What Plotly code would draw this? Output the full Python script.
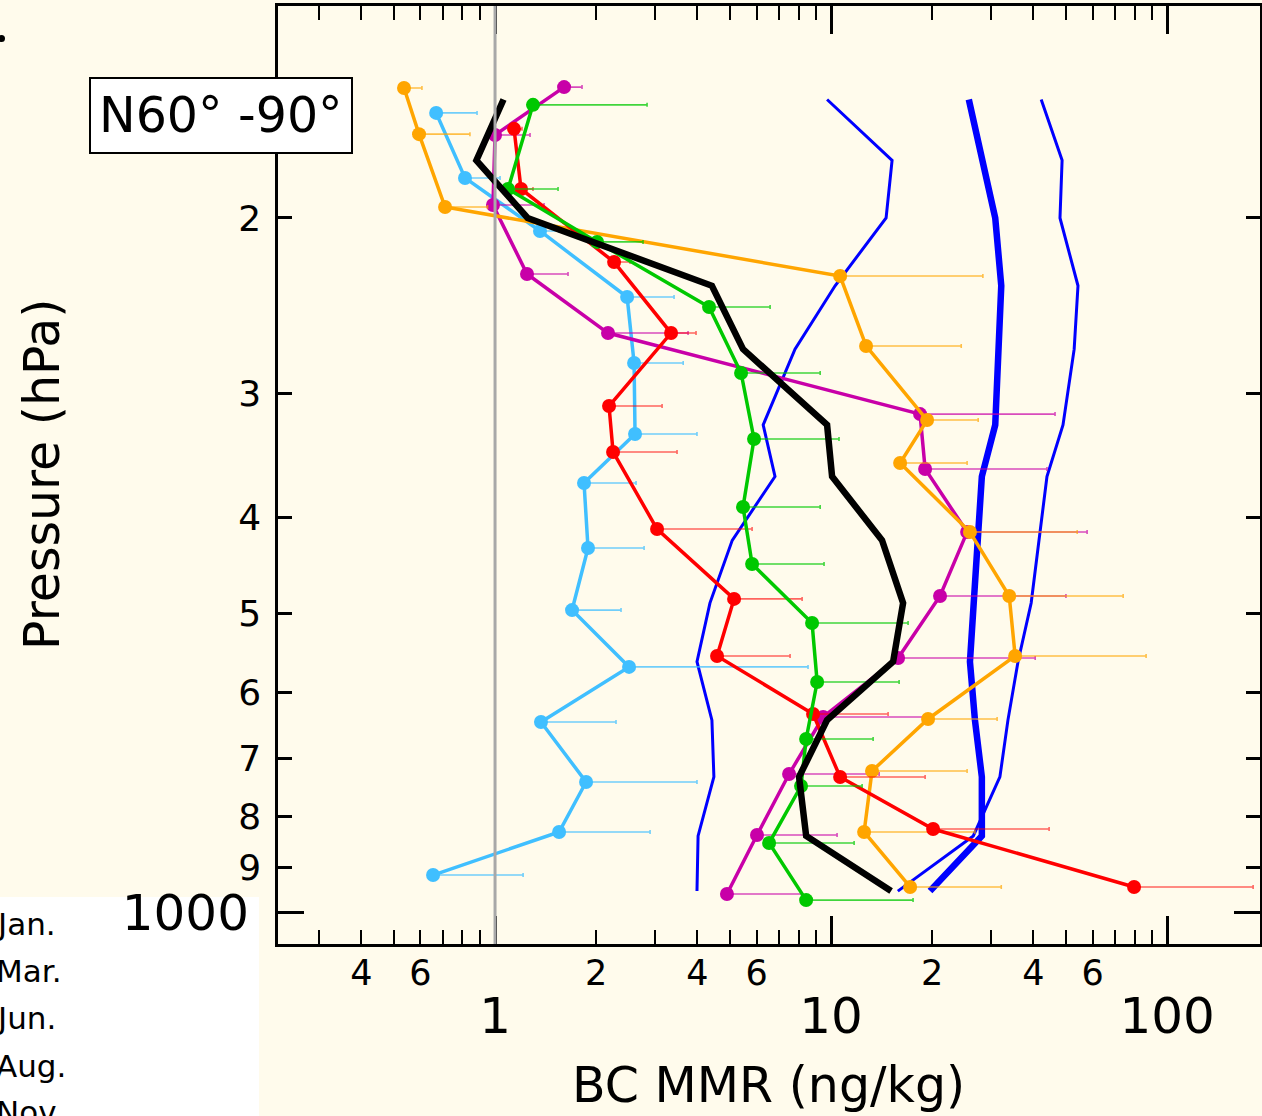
import math
import plotly.graph_objects as go

# ---------------- data ----------------
# model pressure levels (hPa) shared by the model curves
model_p = [152, 175, 200, 234, 271, 323, 364, 422, 488, 559, 640, 730, 837, 951]
model_black = [1.06, 0.88, 1.25, 4.42, 5.47, 9.73, 10.07, 14.18, 16.38, 15.30, 9.73, 8.03, 8.43, 15.09]
model_blue_lo = [9.73, 15.19, 14.58, 10.28, 7.81, 6.28, 6.81, 5.08, 4.36, 3.99, 4.42, 4.48, 4.02, 3.99]
model_blue_mid = [25.7, 28.3, 30.8, 32.1, 31.4, 30.8, 28.1, 27.4, 26.6, 25.9, 26.8, 28.1, 28.1, 19.7]
model_blue_hi = [42.2, 48.7, 48.0, 54.3, 52.9, 49.0, 43.9, 41.6, 39.4, 36.0, 33.6, 31.8, 26.5, 15.8]

# observed profiles: pressure (hPa), mean BC MMR (ng/kg), upper bound of error bar
red_p = [162.7, 187.0, 221.5, 261.1, 309.2, 343.9, 411.1, 483.3, 551.6, 631.0, 730.1, 823.6, 942.0]
red_x = [1.139, 1.195, 2.261, 3.341, 2.184, 2.245, 3.035, 5.145, 4.578, 8.84, 10.64, 20.12, 79.75]
red_hi = [1.203, 1.297, 2.522, 3.964, 3.141, 3.48, 5.821, 8.20, 7.55, 14.78, 19.05, 44.55, 180.3]

orange_p = [148.0, 164.7, 195.0, 228.8, 269.0, 319.4, 352.8, 414.0, 480.1, 551.6, 638.3, 720.0, 829.3, 942.0]
orange_x = [0.536, 0.594, 0.710, 10.64, 12.71, 19.31, 16.05, 25.9, 33.9, 35.3, 19.44, 13.24, 12.54, 17.19]
orange_hi = [0.606, 0.842, 0.95, 28.3, 24.4, 27.4, 25.4, 54.0, 74.0, 86.6, 31.2, 25.4, 26.8, 32.1]

green_p = [153.9, 187.0, 211.4, 245.8, 286.4, 333.7, 390.6, 445.8, 511.1, 585.9, 668.6, 745.5, 850.8, 971.1]
green_x = [1.297, 1.093, 2.012, 4.334, 5.398, 5.899, 5.47, 5.821, 8.78, 9.09, 8.43, 8.14, 6.54, 8.43]
green_hi = [2.834, 1.540, 2.757, 6.585, 9.28, 10.56, 9.28, 9.53, 16.95, 15.94, 13.34, 12.37, 11.71, 17.54]

lblue_p = [156.8, 182.3, 206.1, 240.2, 279.8, 329.9, 369.5, 429.6, 496.0, 565.8, 642.7, 738.6, 829.3, 916.3]
lblue_x = [0.668, 0.814, 1.361, 2.472, 2.593, 2.610, 1.840, 1.891, 1.695, 2.505, 1.370, 1.866, 1.551, 0.654]
lblue_hi = [0.884, 1.035, 1.55, 3.41, 3.63, 3.99, 2.628, 2.777, 2.371, 8.54, 2.291, 3.99, 2.893, 1.212]

magenta_p = [147.7, 165.0, 194.1, 227.7, 261.1, 315.0, 357.7, 414.0, 480.1, 554.2, 635.4, 725.1, 835.1, 957.5]
magenta_x = [1.605, 1.0, 0.986, 1.245, 2.169, 18.40, 19.05, 25.4, 21.10, 15.83, 9.47, 7.50, 6.02, 4.90]
magenta_hi = [1.815, 1.271, 1.399, 1.649, 3.753, 46.4, 43.9, 57.8, 50.0, 40.5, 19.31, 13.9, 10.42, 8.20]

legend_labels = ["Jan.", "Mar.", "Jun.", "Aug.", "Nov."]
region_label = "N60° -90°"

x_major = [1, 10, 100]
x_major_text = ["1", "10", "100"]
x_minor = [0.3, 0.4, 0.5, 0.6, 0.7, 0.8, 0.9, 2, 3, 4, 5, 6, 7, 8, 9,
           20, 30, 40, 50, 60, 70, 80, 90]
x_minor_lab = [0.4, 0.6, 2, 4, 6, 20, 40, 60]
x_minor_lab_text = ["4", "6", "2", "4", "6", "2", "4", "6"]
y_ticks = [200, 300, 400, 500, 600, 700, 800, 900]
y_ticks_text = ["2", "3", "4", "5", "6", "7", "8", "9"]
y_big = [1000]
y_big_text = ["1000"]
ref_x = 1

x_range = [math.log10(0.226), math.log10(189)]
y_range = [math.log10(1075), math.log10(122.4)]

# ---------------- figure ----------------
CREAM = "#FFFBEC"
FONT = "DejaVu Sans"
fig = go.Figure()

def model_line(x, w, color, name):
    fig.add_trace(go.Scatter(x=x, y=model_p, mode="lines", name=name,
                             line=dict(color=color, width=w), showlegend=False))

model_line(model_blue_lo, 3, "#0000FF", "model low")
model_line(model_blue_hi, 3, "#0000FF", "model high")
model_line(model_blue_mid, 6.5, "#0000FF", "model mean")

def obs(p, x, hi, color, ecolor, name):
    plus = [h - v for h, v in zip(hi, x)]
    fig.add_trace(go.Scatter(
        x=x, y=p, mode="lines+markers", name=name, showlegend=False,
        line=dict(color=color, width=3.5),
        marker=dict(color=color, size=14),
        error_x=dict(type="data", symmetric=False, array=plus,
                     arrayminus=[0] * len(x), color=ecolor,
                     thickness=1.6, width=2)))

obs(lblue_p, lblue_x, lblue_hi, "#40BFFF", "rgba(64,191,255,0.75)", legend_labels[1])
obs(magenta_p, magenta_x, magenta_hi, "#C800A8", "rgba(200,0,168,0.7)", legend_labels[4])
obs(orange_p, orange_x, orange_hi, "#FFA500", "rgba(255,165,0,0.7)", legend_labels[0])
obs(red_p, red_x, red_hi, "#FF0000", "rgba(255,0,0,0.6)", legend_labels[2])
obs(green_p, green_x, green_hi, "#00C800", "rgba(0,200,0,0.75)", legend_labels[3])

model_line(model_black, 6.5, "#000000", "model (black)")

# empty traces so that the overlaid label axes are drawn
fig.add_trace(go.Scatter(x=[], y=[], xaxis="x2", yaxis="y", showlegend=False, hoverinfo="skip"))
fig.add_trace(go.Scatter(x=[], y=[], xaxis="x", yaxis="y2", showlegend=False, hoverinfo="skip"))

L, R, T, B = 278, 2, 6, 172
W, H = 1262, 1116
pw = W - L - R
ph = H - T - B

def px(xp):
    return (xp - L) / pw

def py(yp):
    return (H - B - yp) / ph

axis_common = dict(showgrid=False, zeroline=False)

fig.update_layout(
    width=W, height=H,
    margin=dict(l=L, r=R, t=T, b=B, autoexpand=False),
    paper_bgcolor=CREAM, plot_bgcolor=CREAM,
    showlegend=False,
    font=dict(family=FONT, color="black"),
    xaxis=dict(type="log", range=x_range, tickmode="array",
               tickvals=x_major, ticktext=x_major_text,
               ticks="inside", ticklen=28, tickwidth=2.5, tickcolor="black",
               tickfont=dict(size=50, family=FONT), ticklabelstandoff=26,
               minor=dict(tickmode="array", tickvals=x_minor, ticks="inside",
                          ticklen=14, tickwidth=2, tickcolor="black"),
               showline=True, linewidth=2.5, linecolor="black", mirror="ticks",
               **axis_common),
    xaxis2=dict(type="log", range=x_range, overlaying="x", anchor="y", side="bottom",
                tickmode="array", tickvals=x_minor_lab, ticktext=x_minor_lab_text,
                ticks="", showline=False, tickfont=dict(size=35, family=FONT),
                ticklabelstandoff=5, **axis_common),
    yaxis=dict(type="log", range=y_range, tickmode="array",
               tickvals=y_ticks, ticktext=y_ticks_text,
               ticks="inside", ticklen=14, tickwidth=2.5, tickcolor="black",
               tickfont=dict(size=36, family=FONT), ticklabelstandoff=7,
               showline=True, linewidth=2.5, linecolor="black", mirror="ticks",
               **axis_common),
    yaxis2=dict(type="log", range=y_range, overlaying="y", anchor="x", side="left",
                tickmode="array", tickvals=y_big, ticktext=y_big_text,
                ticks="inside", ticklen=26, tickwidth=2.5, tickcolor="black",
                tickfont=dict(size=50, family=FONT), ticklabelstandoff=28,
                showline=False, mirror="ticks", **axis_common),
)

# white legend panel (partially cropped), reference line at 1
fig.add_shape(type="rect", xref="paper", yref="paper",
              x0=px(-10), x1=px(259), y0=py(1130), y1=py(897),
              fillcolor="white", line=dict(width=0), layer="below")
fig.add_shape(type="line", xref="x", yref="paper", x0=ref_x, x1=ref_x, y0=0, y1=1,
              line=dict(color="#A8A8A8", width=3), layer="above")
fig.add_shape(type="circle", xref="paper", yref="paper",
              x0=px(-2), x1=px(5), y0=py(42), y1=py(35),
              fillcolor="black", line=dict(width=0))

# axis titles
fig.add_annotation(text="BC MMR (ng/kg)", xref="paper", yref="paper",
                   x=px(768), y=py(1085), showarrow=False,
                   font=dict(size=49, family=FONT), xanchor="center", yanchor="middle")
fig.add_annotation(text="Pressure (hPa)", xref="paper", yref="paper",
                   x=px(42), y=py(475), showarrow=False, textangle=-90,
                   font=dict(size=49, family=FONT), xanchor="center", yanchor="middle")

# region label box
fig.add_annotation(text=region_label, xref="paper", yref="paper",
                   x=px(221), y=py(116), showarrow=False,
                   font=dict(size=49, family=FONT), bgcolor="white",
                   bordercolor="black", borderwidth=2, borderpad=8,
                   xanchor="center", yanchor="middle")

# legend texts (cropped legend)
for lab, yc in zip(legend_labels, [924, 971, 1018, 1066, 1112]):
    fig.add_annotation(text=lab, xref="paper", yref="paper",
                       x=px(-6), y=py(yc), showarrow=False,
                       font=dict(size=31, family=FONT),
                       xanchor="left", yanchor="middle")

fig.write_html("out.html")
